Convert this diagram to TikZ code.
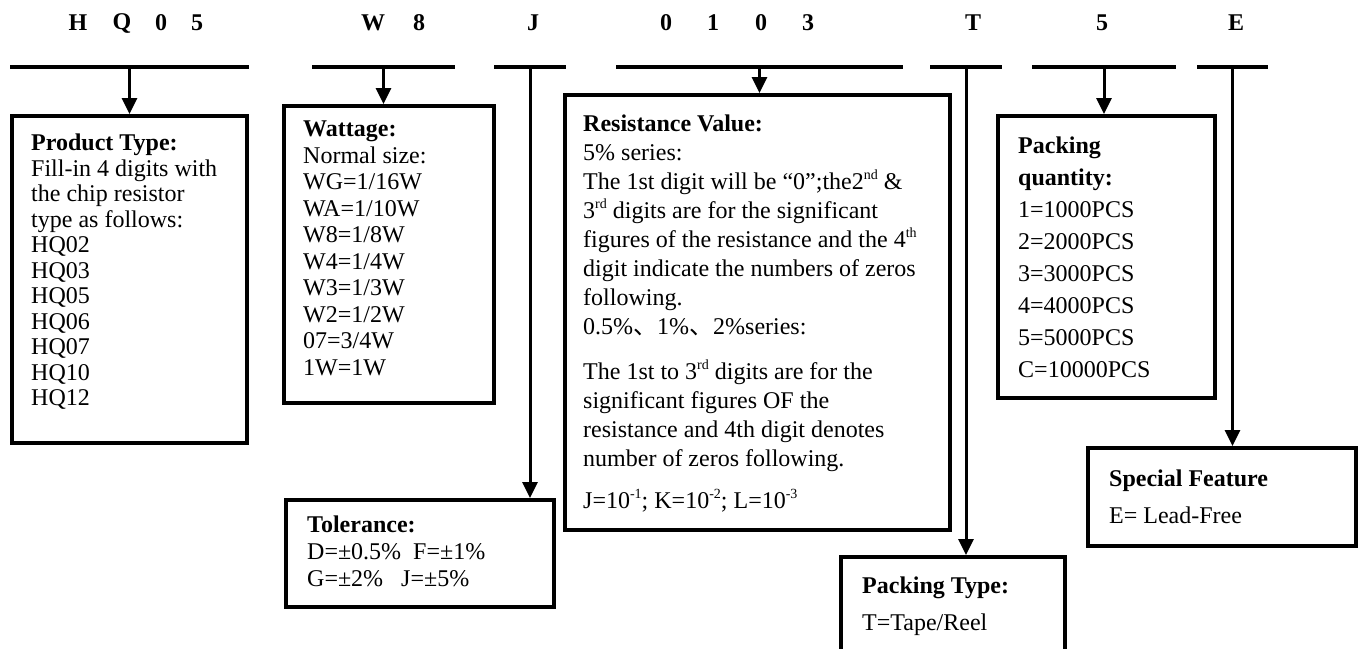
\documentclass[tikz,border=0pt]{standalone}
\usepackage{fontspec}
\setmainfont{Liberation Serif}
\newfontfamily\cjk{Noto Sans CJK SC}
\usepackage{tikz}
\usetikzlibrary{arrows.meta, calc}
\newcommand{\supx}[1]{\raisebox{0.42em}{\fontsize{14}{14}\selectfont #1}}
\tikzstyle{code} = [font=\fontsize{24}{24}\selectfont\bfseries, inner sep=0pt]
\tikzstyle{bar} = [rectangle, fill=black, inner sep=0pt, minimum height=4.5pt]
\tikzstyle{box} = [rectangle, draw, line width=3.5pt, inner sep=0pt, anchor=north west]
\tikzstyle{txt} = [inner sep=0pt, anchor=north west, align=left]
\tikzstyle{line} = [draw, line width=3pt, -{Triangle[length=16pt, width=15pt]}]

\begin{document}
\begin{tikzpicture}[x=1pt, y=-1pt]
    \clip (0,0) rectangle (1360,648);
    \fill[white] (0,0) rectangle (1360,648);
    % Code letters
    \foreach \x/\c [count=\i] in {78/H, 122/Q, 161/0, 197/5, 373/W, 419/8, 533/J,
        666/0, 713/1, 761/0, 808/3, 973/T, 1102/5, 1236/E}
        \node [code] (c\i) at (\x,23) {\c};
    % Bars
    \node [bar, minimum width=239pt] (bar1) at (129.5,67) {};
    \node [bar, minimum width=143pt] (bar2) at (383.5,67) {};
    \node [bar, minimum width=72pt] (bar3) at (530,67) {};
    \node [bar, minimum width=287pt] (bar4) at (759.5,67) {};
    \node [bar, minimum width=72pt] (bar5) at (966,67) {};
    \node [bar, minimum width=144pt] (bar6) at (1104,67) {};
    \node [bar, minimum width=71pt] (bar7) at (1232.5,67) {};
    % Boxes
    \node [box, minimum width=235pt, minimum height=327pt] (prod) at (10,114) {};
    \node [box, minimum width=210pt, minimum height=297pt] (watt) at (282,104) {};
    \node [box, minimum width=268pt, minimum height=107pt] (tol) at (284,498) {};
    \node [box, minimum width=385pt, minimum height=435pt] (res) at (563,93) {};
    \node [box, minimum width=224pt, minimum height=120pt] (ptype) at (839,555) {};
    \node [box, minimum width=217pt, minimum height=282pt] (pqty) at (996,114) {};
    \node [box, minimum width=268pt, minimum height=98pt] (spec) at (1086,446) {};
    % Texts
    \node [txt, font=\fontsize{24}{25.5}\selectfont] (prodtxt) at ($(prod.north west)+(21,20)$)
        {\textbf{Product Type:}\\Fill-in 4 digits with\\the chip resistor\\type as follows:\\
         HQ02\\HQ03\\HQ05\\HQ06\\HQ07\\HQ10\\HQ12};
    \node [txt, font=\fontsize{24}{26.5}\selectfont] (watttxt) at ($(watt.north west)+(21,17)$)
        {\textbf{Wattage:}\\Normal size:\\WG=1/16W\\WA=1/10W\\W8=1/8W\\W4=1/4W\\
         W3=1/3W\\W2=1/2W\\07=3/4W\\1W=1W};
    \node [txt, font=\fontsize{24}{27}\selectfont] (toltxt) at ($(tol.north west)+(23,18)$)
        {\textbf{Tolerance:}\\D=±0.5\%~~F=±1\%\\G=±2\%~~~J=±5\%};
    \node [txt, font=\fontsize{24}{29}\selectfont] (restxt) at ($(res.north west)+(20,22)$)
        {\textbf{Resistance Value:}\\5\% series:\\
         The 1st digit will be “0”;the2\supx{nd} \&\\
         3\supx{rd} digits are for the significant\\
         figures of the resistance and the 4\supx{th}\\
         digit indicate the numbers of zeros\\
         following.\\
         0.5\%{\cjk 、}1\%{\cjk 、}2\%series:\\[16pt]
         The 1st to 3\supx{rd} digits are for the\\
         significant figures OF the\\
         resistance and 4th digit denotes\\
         number of zeros following.\\[13pt]
         J=10\supx{-1}; K=10\supx{-2}; L=10\supx{-3}};
    \node [txt, font=\fontsize{24}{37}\selectfont] (ptypetxt) at ($(ptype.north west)+(23,22)$)
        {\textbf{Packing Type:}\\T=Tape/Reel};
    \node [txt, font=\fontsize{24}{32}\selectfont] (pqtytxt) at ($(pqty.north west)+(22,23)$)
        {\textbf{Packing}\\\textbf{quantity:}\\1=1000PCS\\2=2000PCS\\3=3000PCS\\
         4=4000PCS\\5=5000PCS\\C=10000PCS};
    \node [txt, font=\fontsize{24}{37}\selectfont] (spectxt) at ($(spec.north west)+(23,24)$)
        {\textbf{Special Feature}\\E= Lead-Free};
    % Connectors
    \path [line] (bar1) -- (bar1 |- prod.north);
    \path [line] (bar2) -- (bar2 |- watt.north);
    \path [line] (bar3) -- (bar3 |- tol.north);
    \path [line] (bar4) -- (bar4 |- res.north);
    \path [line] (bar5) -- (bar5 |- ptype.north);
    \path [line] (bar6) -- (bar6 |- pqty.north);
    \path [line] (bar7) -- (bar7 |- spec.north);
\end{tikzpicture}
\end{document}
